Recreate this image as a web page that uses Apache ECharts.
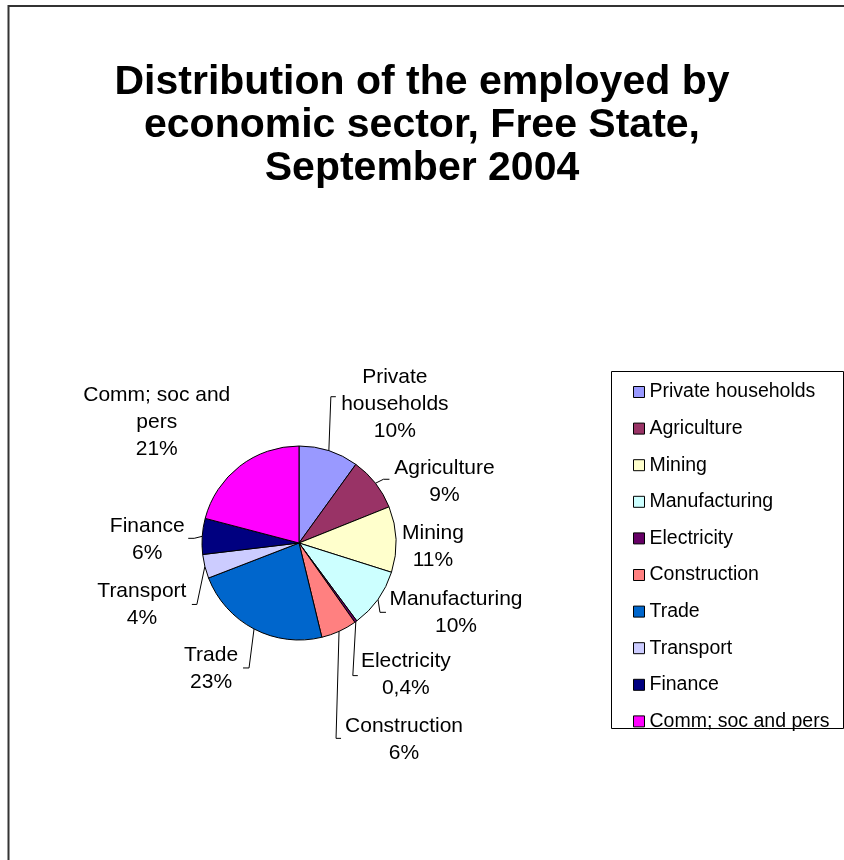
<!DOCTYPE html>
<html>
<head>
<meta charset="utf-8">
<title>Employed by economic sector, Free State</title>
<script src="https://cdn.jsdelivr.net/npm/echarts@6/dist/echarts.min.js"></script>
<style>
  html, body { margin: 0; padding: 0; background: #fff; }
  #chart { width: 844px; height: 860px; }
</style>
</head>
<body>
<div id="chart"></div>
<script>
// Sectors, in clockwise order from 12 o'clock
const sectors = ['Private households', 'Agriculture', 'Mining', 'Manufacturing', 'Electricity',
                 'Construction', 'Trade', 'Transport', 'Finance', 'Comm; soc and pers'];
// Share of the employed, percent
const shares = [10, 9, 11, 10, 0.4, 6, 23, 4, 6, 21];
// Label wording with line breaks
const labelNames = ['Private\nhouseholds', 'Agriculture', 'Mining', 'Manufacturing', 'Electricity',
                    'Construction', 'Trade', 'Transport', 'Finance', 'Comm; soc and\npers'];
const colors = ['#9999FF', '#993366', '#FFFFCC', '#CCFFFF', '#660066',
                '#FF8080', '#0066CC', '#CCCCFF', '#000080', '#FF00FF'];
// Label placement relative to each slice's outer mid point (px)
const labelShift = [[66, -47], [69, -2], [37, 7], [78, 13], [50, 53],
                    [65, 108], [-43, 40], [-63, 38], [-55, 3], [-83, -44]];
// Leader line end (relative to label centre) and tick length; null = no leader
const leaderEnd = [[-59, -7, -5], [-55, -2, -6], null, [-70, 0, -6], [-48, 1, -5],
                   [-63, -1, -5], [32, -1, 6], [50, 0, 5], [41, -1, 6], null];

const FONT = "'Liberation Sans', Arial, Helvetica, sans-serif";
const chart = echarts.init(document.getElementById('chart'), null, { renderer: 'canvas' });

chart.setOption({
  animation: false,
  backgroundColor: '#ffffff',
  color: colors,
  title: {
    text: 'Distribution of the employed by\neconomic sector, Free State,\nSeptember 2004',
    left: 'center',
    top: 61,
    padding: 0,
    textStyle: {
      fontFamily: FONT, fontSize: 41, fontWeight: 'bold', color: '#000', lineHeight: 43
    }
  },
  graphic: [
    // outer frame of the sheet
    { type: 'rect', shape: { x: 8.5, y: 6, width: 900, height: 900 },
      style: { fill: null, stroke: '#333', lineWidth: 2 }, silent: true, z: 0 },
    // legend frame
    { type: 'rect', shape: { x: 611.5, y: 371.5, width: 232, height: 357 },
      style: { fill: '#fff', stroke: '#000', lineWidth: 1 }, silent: true, z: 0 }
  ],
  legend: {
    orient: 'vertical',
    left: 633,
    top: 381,
    padding: 0,
    itemWidth: 11,
    itemHeight: 11,
    itemGap: 14.6,
    icon: 'rect',
    selectedMode: false,
    itemStyle: { borderColor: '#000', borderWidth: 1 },
    textStyle: { fontFamily: FONT, fontSize: 19.5, color: '#000', lineHeight: 22 },
    data: sectors
  },
  series: [{
    type: 'pie',
    center: [299, 543],
    radius: 97,
    startAngle: 90,
    clockwise: true,
    avoidLabelOverlap: false,
    minAngle: 0,
    emphasis: { disabled: true },
    itemStyle: { borderColor: '#000', borderWidth: 1 },
    label: {
      show: true,
      position: 'outside',
      fontFamily: FONT,
      fontSize: 21,
      lineHeight: 27,
      color: '#000',
      align: 'center',
      formatter: p => labelNames[p.dataIndex] + '\n' + String(p.value).replace('.', ',') + '%'
    },
    labelLine: {
      show: true,
      length: 10,
      length2: 6,
      lineStyle: { color: '#000', width: 1 }
    },
    labelLayout: function (params) {
      const pts = params.labelLinePoints;
      const i = params.dataIndex;
      const s = labelShift[i];
      if (!pts) return {};
      const cx = pts[0][0] + s[0];
      const cy = pts[0][1] + s[1];
      const out = { x: cx, y: cy, align: 'center', verticalAlign: 'middle' };
      const e = leaderEnd[i];
      if (e) {
        const endX = cx + e[0], endY = cy + e[1];
        out.labelLinePoints = [pts[0].slice(), [endX + e[2], endY], [endX, endY]];
      }
      return out;
    },
    data: sectors.map((name, i) => ({
      name: name,
      value: shares[i],
      labelLine: { show: leaderEnd[i] !== null }
    }))
  }]
});
</script>
</body>
</html>
